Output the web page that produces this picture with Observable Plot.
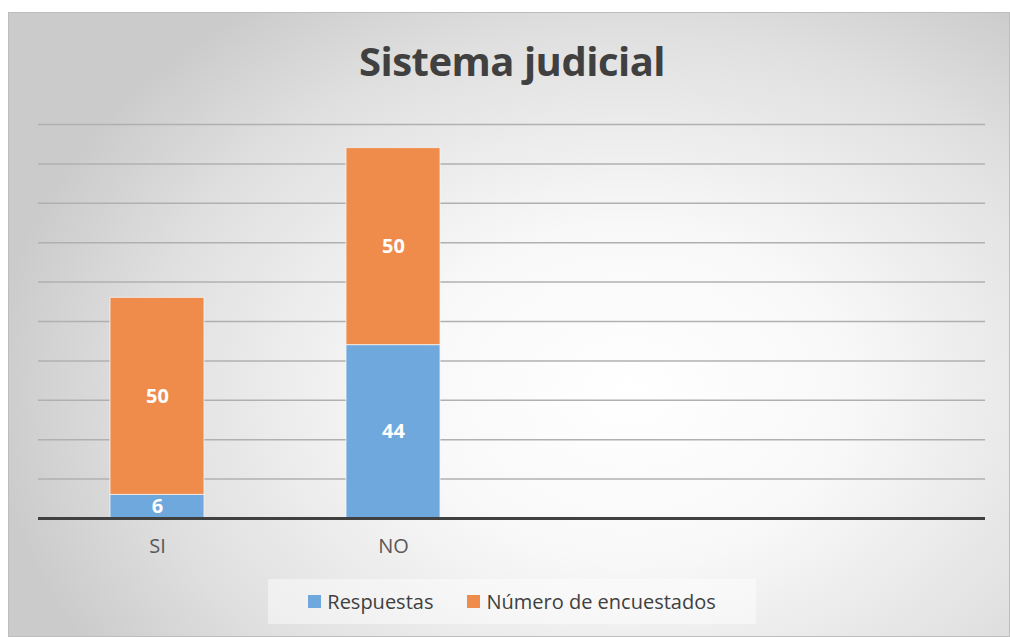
<!DOCTYPE html>
<html>
<head>
<meta charset="utf-8">
<script src="https://cdn.jsdelivr.net/npm/d3@7"></script>
<script src="https://cdn.jsdelivr.net/npm/@observablehq/plot@0.6"></script>
<style>
  html, body { margin: 0; padding: 0; background: #fff; }
  #frame {
    position: absolute; left: 8px; top: 12px; width: 1002px; height: 625px;
    box-sizing: border-box; border: 1px solid #bdbdbd;
    background: radial-gradient(ellipse 640px 480px at 620px 380px, #ffffff 0%, #f8f8f8 35%, #e0e0e0 75%, #cbcbcb 100%);
    overflow: hidden;
  }
  #title {
    position: absolute; left: 7px; width: 1010px; top: 33px; text-align: center;
    font-family: "Open Sans", "Lato", sans-serif; font-weight: 700; font-size: 40px;
    color: #404040; letter-spacing: -0.5px;
  }
  #chart { position: absolute; left: 0; top: 0; }
  #legend {
    position: absolute; left: 268px; top: 579px; width: 488px; height: 45px;
    background: rgba(255,255,255,0.45);
    display: flex; align-items: center; justify-content: center; gap: 34px;
    font-family: "Open Sans", sans-serif; font-size: 20px; color: #404040;
  }
  .item { display: flex; align-items: center; gap: 6px; }
  .sw { width: 13px; height: 13px; display: inline-block; }
</style>
</head>
<body>
<div id="frame"></div>
<div id="chart"></div>
<div id="title">Sistema judicial</div>
<div id="legend"></div>
<script>
const categories = ["SI", "NO", " ", "  "];
const series = ["Respuestas", "Número de encuestados"];
const respuestas = [6, 44];
const encuestados = [50, 50];
const colors = ["#6fa8dc", "#ef8b4b"];
const yTicks = [10, 20, 30, 40, 50, 60, 70, 80, 90, 100];

const data = [];
respuestas.forEach((v, i) => data.push({cat: categories[i], serie: series[0], value: v}));
encuestados.forEach((v, i) => data.push({cat: categories[i], serie: series[1], value: v}));

const stackOpts = {x: "cat", y: "value", z: "serie", order: series};

const chart = Plot.plot({
  width: 1010,
  height: 637,
  marginLeft: 38,
  marginRight: 25,
  marginTop: 124,
  marginBottom: 119,
  style: {background: "transparent", fontFamily: "Open Sans, sans-serif"},
  x: {domain: categories, paddingInner: 0.6, paddingOuter: 0.3, label: null, axis: null},
  y: {domain: [0, 100], axis: null},
  color: {domain: series, range: colors},
  marks: [
    Plot.ruleY(yTicks, {stroke: "#b0b0b0", strokeWidth: 1.5}),
    Plot.barY(data, Plot.stackY({...stackOpts, fill: "serie", stroke: "#f4f4f4", strokeWidth: 1, strokeOpacity: 0.8})),
    Plot.text(data, Plot.stackY({...stackOpts, text: "value", fill: "white", fontSize: 20, fontWeight: "bold"})),
    Plot.ruleY([0], {stroke: "#404040", strokeWidth: 3}),
    Plot.axisX({tickSize: 0, tickPadding: 20, fontSize: 20, fill: "#595959", label: null})
  ]
});
document.getElementById("chart").appendChild(chart);

const legend = document.getElementById("legend");
series.forEach((s, i) => {
  const it = document.createElement("div");
  it.className = "item";
  const sw = document.createElement("span");
  sw.className = "sw";
  sw.style.background = colors[i];
  const t = document.createElement("span");
  t.textContent = s;
  it.appendChild(sw); it.appendChild(t);
  legend.appendChild(it);
});
</script>
</body>
</html>
